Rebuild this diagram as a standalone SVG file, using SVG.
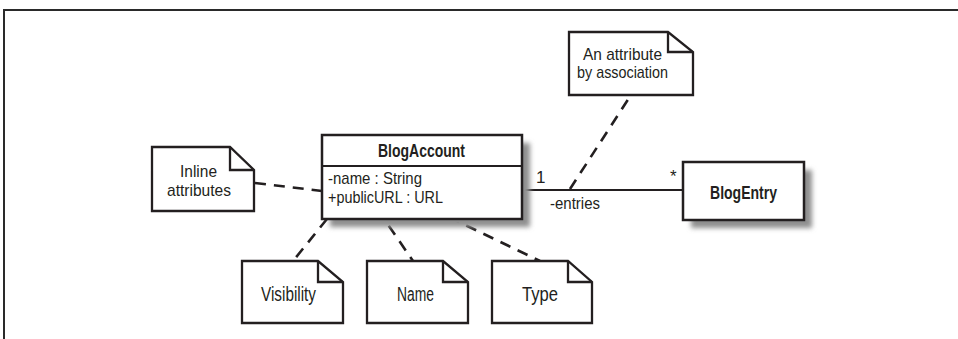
<svg xmlns="http://www.w3.org/2000/svg" width="958" height="339" viewBox="0 0 958 339">
<defs>
<filter id="blur" x="-20%" y="-20%" width="140%" height="140%"><feGaussianBlur stdDeviation="2.5"/></filter>
<style>
.box{fill:#fff;stroke:#231f20;stroke-width:2.5}
.shadow{fill:#8f8f8f;filter:url(#blur)}
.note{fill:#fff;stroke:#231f20;stroke-width:2.3;stroke-linejoin:miter}
.fold{fill:none;stroke:#231f20;stroke-width:2.3}
.dash{fill:none;stroke:#231f20;stroke-width:2.6;stroke-dasharray:11 8}
.line{fill:none;stroke:#231f20;stroke-width:2}
text{font-family:"Liberation Sans",Arial,sans-serif;fill:#231f20;font-size:17px}
.b{font-weight:bold;font-size:17.5px}
.big{font-size:20px}
.m{text-anchor:middle}
</style>
</defs>
<rect width="958" height="339" fill="#fff"/>
<g id="frame">
<line x1="3" y1="10" x2="958" y2="10" stroke="#2a2a2a" stroke-width="2"/>
<line x1="4" y1="9" x2="4" y2="339" stroke="#2a2a2a" stroke-width="2"/>
</g>
<g id="connectors">
<line class="line" x1="522" y1="190" x2="683" y2="190"/>
<line class="dash" x1="570" y1="189" x2="631" y2="95"/>
<line class="dash" x1="255" y1="183" x2="322" y2="191"/>
<line class="dash" x1="327" y1="219" x2="293" y2="261"/>
<line class="dash" x1="378" y1="210" x2="413" y2="261"/>
<line class="dash" x1="432" y1="209" x2="540" y2="261"/>
<text x="536" y="183">1</text>
<text x="670" y="182">*</text>
<text x="550" y="209" textLength="50" lengthAdjust="spacingAndGlyphs">-entries</text>
</g>
<g id="BlogAccount">
<rect class="shadow" x="330" y="143" width="200" height="84"/>
<rect class="box" x="322" y="135" width="200" height="84"/>
<line class="line" x1="322" y1="166" x2="522" y2="166" stroke-width="2.5"/>
<text class="b m" x="421.5" y="157" textLength="87" lengthAdjust="spacingAndGlyphs">BlogAccount</text>
<text x="328" y="184" textLength="94" lengthAdjust="spacingAndGlyphs">-name : String</text>
<text x="328" y="203" textLength="115" lengthAdjust="spacingAndGlyphs">+publicURL : URL</text>
</g>
<g id="BlogEntry">
<rect class="shadow" x="691" y="170" width="121" height="58"/>
<rect class="box" x="683" y="162" width="121" height="58"/>
<text class="b m" x="743.5" y="199" textLength="67" lengthAdjust="spacingAndGlyphs">BlogEntry</text>
</g>
<g id="note-association">
<path class="note" d="M569 32 H668 L693 52 V95 H569 Z"/>
<path class="fold" d="M668 32 V52 H693"/>
<text class="m" x="622.5" y="60" textLength="79" lengthAdjust="spacingAndGlyphs">An attribute</text>
<text class="m" x="622.5" y="78" textLength="91" lengthAdjust="spacingAndGlyphs">by association</text>
</g>
<g id="note-inline">
<path class="note" d="M152 147 H230 L254 170 V211 H152 Z"/>
<path class="fold" d="M230 147 V170 H254"/>
<text class="m" x="198.5" y="177" textLength="37" lengthAdjust="spacingAndGlyphs">Inline</text>
<text class="m" x="199" y="196" textLength="64" lengthAdjust="spacingAndGlyphs">attributes</text>
</g>
<g id="note-visibility">
<path class="note" d="M242 261 H318 L343 282 V323 H242 Z"/>
<path class="fold" d="M318 261 V282 H343"/>
<text class="m big" x="288.5" y="301" textLength="55" lengthAdjust="spacingAndGlyphs">Visibility</text>
</g>
<g id="note-name">
<path class="note" d="M367 261 H443 L468 282 V323 H367 Z"/>
<path class="fold" d="M443 261 V282 H468"/>
<text class="m big" x="415.5" y="301" textLength="37" lengthAdjust="spacingAndGlyphs">Name</text>
</g>
<g id="note-type">
<path class="note" d="M492 261 H568 L592 282 V323 H492 Z"/>
<path class="fold" d="M568 261 V282 H592"/>
<text class="m big" x="540" y="301" textLength="36" lengthAdjust="spacingAndGlyphs">Type</text>
</g>
</svg>
